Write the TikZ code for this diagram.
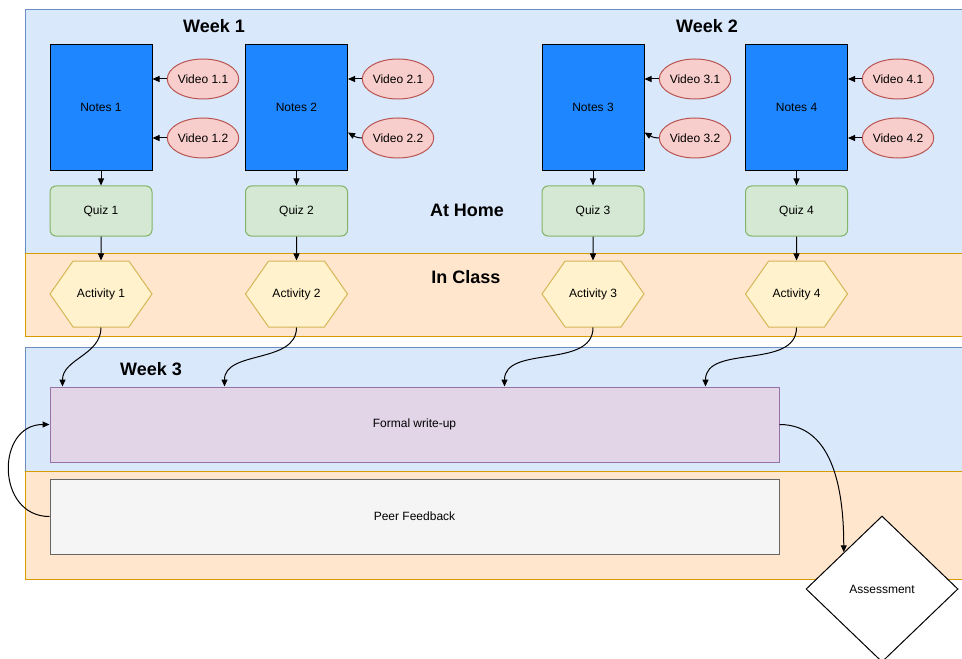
\documentclass[tikz,border=0pt]{standalone}
\usepackage{fontspec}
\setmainfont{Liberation Sans}
\definecolor{homefill}{HTML}{dae8fc}
\definecolor{homeline}{HTML}{6c8ebf}
\definecolor{classfill}{HTML}{ffe6cc}
\definecolor{classline}{HTML}{d79b00}
\definecolor{notesfill}{HTML}{1e87ff}
\definecolor{videofill}{HTML}{f8cecc}
\definecolor{videoline}{HTML}{b85450}
\definecolor{quizfill}{HTML}{d5e8d4}
\definecolor{quizline}{HTML}{82b366}
\definecolor{actfill}{HTML}{fff2cc}
\definecolor{actline}{HTML}{d6b656}
\definecolor{writefill}{HTML}{e1d5e7}
\definecolor{writeline}{HTML}{9673a6}
\definecolor{peerfill}{HTML}{f5f5f5}
\definecolor{peerline}{HTML}{666666}
\usepackage{tikz}
\usetikzlibrary{shapes.geometric,shapes.symbols,arrows.meta}
\newdimen\pxu \pxu=0.75pt

\begin{document}
\begin{tikzpicture}[x=0.75pt,y=-0.75pt,line width=0.75pt,
    >={Triangle[length=5.25pt,width=4.5pt]}]

    \tikzset{%
        weektitle/.style={font=\fontsize{13.5}{16}\selectfont\bfseries},
        small/.style={font=\fontsize{9}{11}\selectfont},
        notes/.style={small,draw=black,fill=notesfill,minimum width=102\pxu,minimum height=126\pxu},
        video/.style={small,ellipse,draw=videoline,fill=videofill,minimum width=68\pxu,minimum height=40\pxu,inner sep=0pt},
        quiz/.style={small,rounded corners=6\pxu,draw=quizline,fill=quizfill,minimum width=102\pxu,minimum height=50\pxu},
        activity/.style={small,signal,signal to=west and east,signal pointer angle=110,draw=actline,fill=actfill,minimum width=102\pxu,minimum height=66\pxu,inner sep=0pt},
        link/.style={->,draw=black}
    }

    \useasboundingbox (0,0) rectangle (962,659);

    % swim lanes
    \path[fill=homefill,draw=homeline] (25,10) rectangle (966,253);
    \path[fill=classfill,draw=classline] (25,253) rectangle (966,336);
    \path[fill=homefill,draw=homeline] (25,347) rectangle (966,471);
    \path[fill=classfill,draw=classline] (25,471) rectangle (966,579);

    \node[weektitle] (wk1) at (214,26) {Week 1};
    \node[weektitle] (wk2) at (707,26) {Week 2};
    \node[weektitle] (wk3) at (151,369) {Week 3};
    \node[weektitle] (home) at (467,210) {At Home};
    \node[weektitle] (class) at (466,277) {In Class};

    \foreach \i/\x/\vx in {1/101/203, 2/296.5/398, 3/593/695, 4/796.5/898} {%
            \node[notes] (n\i) at (\x,107.5) {Notes \i};
            \node[video] (v\i1) at (\vx,79) {Video \i.1};
            \node[video] (v\i2) at (\vx,138) {Video \i.2};
            \node[quiz] (q\i) at (\x,211) {Quiz \i};
            \node[activity] (a\i) at (\x,294) {Activity \i};
            \draw[link] (v\i1) -- (n\i.east |- v\i1);
            \draw[link] (n\i) -- (q\i);
            \draw[link] (q\i) -- (a\i);
        }
    \draw[link] (v12) -- (n1.east |- v12);
    \draw[link] (v42) -- (n4.east |- v42);
    \draw[link] (v22.west) to[out=180,in=-30] ([yshift=-25\pxu]n2.east);
    \draw[link] (v32.west) to[out=180,in=-30] ([yshift=-25\pxu]n3.east);

    \node[small,draw=writeline,fill=writefill,minimum width=729\pxu,minimum height=75\pxu] (write) at (414.5,424.5) {Formal write-up};
    \node[small,draw=peerline,fill=peerfill,minimum width=729\pxu,minimum height=75\pxu] (peer) at (414.5,516.5) {Peer Feedback};
    \node[small,diamond,draw=black,fill=white,minimum width=152\pxu,minimum height=146\pxu,inner sep=0pt] (assess) at (882,589) {Assessment};

    \draw[link] (a1.south) to[out=-90,in=90] ([xshift=13\pxu]write.north west);
    \draw[link] (a2.south) to[out=-90,in=90] ([xshift=175\pxu]write.north west);
    \draw[link] (a3.south) to[out=-90,in=90] ([xshift=455\pxu]write.north west);
    \draw[link] (a4.south) to[out=-90,in=90] ([xshift=656\pxu]write.north west);
    \draw[link] (peer.west) to[out=180,in=180,looseness=1.5] (write.west);
    \draw[link] (write.east) to[out=0,in=90] (assess.north west);

\end{tikzpicture}
\end{document}
